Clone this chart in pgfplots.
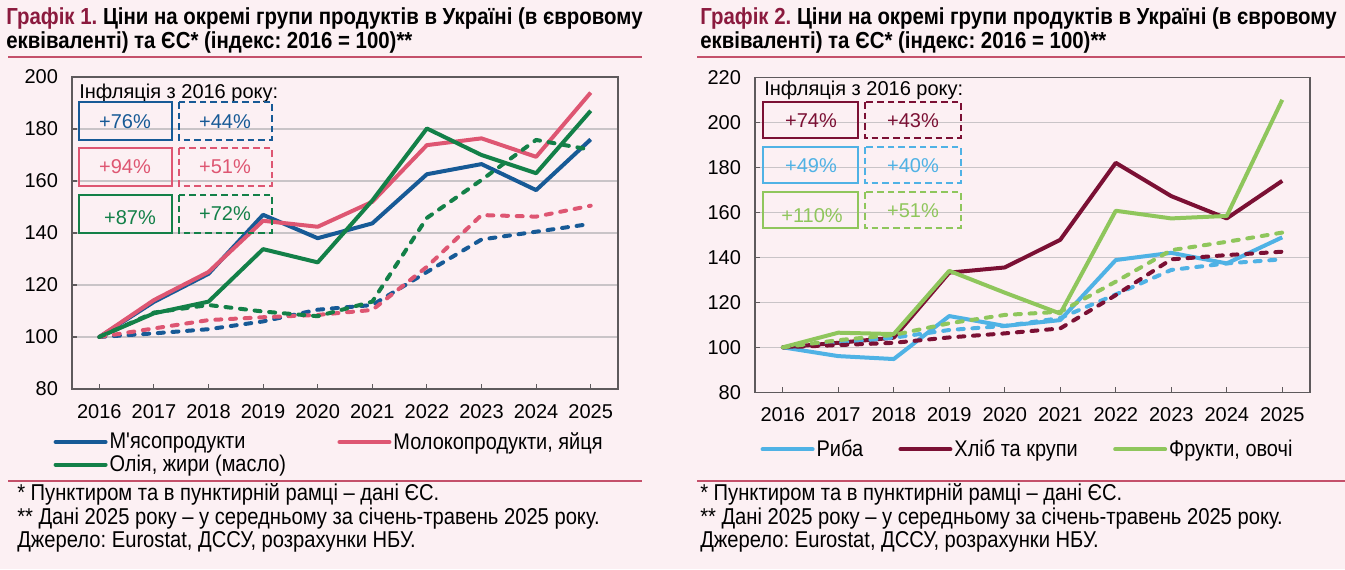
\documentclass[border=0pt]{standalone}
\usepackage{fontspec}
\setmainfont{Liberation Sans}
\newfontfamily\narrowfont[FakeStretch=0.88, Ligatures=TeXOff]{Liberation Sans}
\usepackage{pgfplots}
\usepackage{pgfplotstable}
\pgfplotsset{compat=1.18}
\frenchspacing

\definecolor{bgpink}{HTML}{FCF0F3}
\definecolor{meat}{HTML}{175A96}
\definecolor{dairy}{HTML}{DE5672}
\definecolor{oil}{HTML}{138048}
\definecolor{fish}{HTML}{4FB2E5}
\definecolor{bread}{HTML}{7B1034}
\definecolor{fruit}{HTML}{8FC65C}
\definecolor{titlered}{HTML}{8B1A3E}
\definecolor{rulered}{HTML}{C4506A}
\definecolor{gridgray}{HTML}{C9C4C7}
\definecolor{axisgray}{HTML}{5E5A5C}

% Chart 1: meat, dairy, oils -- Ukraine (UA) and EU, index 2016 = 100
\pgfplotstableread{
yr meatUA dairyUA oilUA meatEU dairyEU oilEU
0  100    100     100   100    100     100
1  113.5  114.2   109.1 101.4  103.3   109.4
2  124.3  125.0   113.6 103.0  106.5   112.3
3  147.0  144.7   133.8 106.0  107.6   109.8
4  138.0  142.4   128.7 110.5  108.5   108.0
5  143.7  152.0   152.5 112.3  110.4   113.6
6  162.6  173.8   180.2 125.0  127.0   145.8
7  166.5  176.4   170.0 137.5  146.9   160.4
8  156.5  169.3   163.0 140.5  146.3   175.8
9  176.0  194.0   187.0 143.5  150.5   172.0
}\tableA

% Chart 2: fish, bread and cereals, fruit and vegetables
\pgfplotstableread{
yr fishUA breadUA fruitUA fishEU breadEU fruitEU
0  100    100     100     100    100     100
1  96.1   102.0   106.5   102.0  101.0   103.2
2  94.8   104.3   105.9   104.3  102.0   105.5
3  113.9  133.2   134.0   107.7  104.4   110.7
4  109.5  135.5   124.3   109.5  106.2   114.4
5  112.1  147.8   115.0   113.0  108.4   115.8
6  138.8  182.0   160.7   123.5  123.2   129.2
7  142.0  167.2   157.3   134.4  139.1   143.2
8  137.3  157.3   158.4   137.3  141.0   146.9
9  148.9  174.0   210.0   139.1  142.5   151.0
}\tableB

\pgfplotsset{
  panel/.style={
    scale only axis,
    xmin=-0.5, xmax=9.5,
    xtick={0,...,9},
    xticklabels={2016,2017,2018,2019,2020,2021,2022,2023,2024,2025},
    xtick pos=left, ytick pos=left,
    tick align=inside,
    major tick length=4pt,
    ymajorgrids,
    grid style={gridgray, line width=0.8pt},
    axis line style={axisgray, line width=1.1pt},
    every tick/.style={axisgray, line width=0.8pt},
    /pgf/number format/assume math mode=true,
    tick label style={font=\fontsize{15}{17}\selectfont, text=black},
    xticklabel style={yshift=-8pt},
    yticklabel style={xshift=-7pt},
    legend style={draw=none, fill=none, inner sep=0pt,
      font=\narrowfont\fontsize{17}{18}\selectfont,
      nodes={inner sep=1.5pt}},
    legend cell align=left,
    legend image code/.code={\draw[#1, line width=3pt, line cap=round, solid] (1.5pt,0pt) -- (39pt,0pt);},
  },
  ua/.style={line width=3pt, line join=round},
  eu/.style={line width=3pt, line join=round, line cap=round, dash pattern=on 4.5pt off 6.5pt},
}

\begin{document}
\begin{tikzpicture}
\path[use as bounding box, fill=bgpink] (0,0) rectangle (1008.75pt,426.75pt);

% ---------- Chart 1 ----------
\begin{axis}[panel,
  at={(54pt,135pt)}, anchor=south west,
  width=409.5pt, height=234pt,
  ymin=80, ymax=200, ytick={80,100,...,200},
  legend columns=2,
  legend style={at={(0,0)}, anchor=north west, xshift=-14pt, yshift=-31pt,
    /tikz/every even column/.append style={column sep=37pt}},
]
\addplot[ua, meat]  table[x=yr, y=meatUA]  {\tableA};
\addlegendentry{М'ясопродукти}
\addplot[ua, dairy] table[x=yr, y=dairyUA] {\tableA};
\addlegendentry{Молокопродукти, яйця}
\addplot[ua, oil]   table[x=yr, y=oilUA]   {\tableA};
\addlegendentry{Олія, жири (масло)}
\addplot[eu, meat,  forget plot] table[x=yr, y=meatEU]  {\tableA};
\addplot[eu, dairy, forget plot] table[x=yr, y=dairyEU] {\tableA};
\addplot[eu, oil,   forget plot] table[x=yr, y=oilEU]   {\tableA};
\end{axis}

% ---------- Chart 2 ----------
\begin{axis}[panel,
  at={(566.25pt,132.5pt)}, anchor=south west,
  width=416.25pt, height=236.25pt,
  ymin=80, ymax=220, ytick={80,100,...,220},
  legend columns=3,
  legend style={at={(0,0)}, anchor=north west, xshift=4pt, yshift=-34pt,
    /tikz/every even column/.append style={column sep=25pt}},
]
\addplot[ua, fish]  table[x=yr, y=fishUA]  {\tableB};
\addlegendentry{Риба}
\addplot[ua, bread] table[x=yr, y=breadUA] {\tableB};
\addlegendentry{Хліб та крупи}
\addplot[ua, fruit] table[x=yr, y=fruitUA] {\tableB};
\addlegendentry{Фрукти, овочі}
\addplot[eu, fish,  forget plot] table[x=yr, y=fishEU]  {\tableB};
\addplot[eu, bread, forget plot] table[x=yr, y=breadEU] {\tableB};
\addplot[eu, fruit, forget plot] table[x=yr, y=fruitEU] {\tableB};
\end{axis}

% ---------- Titles, boxes and notes (pixel grid, y downwards) ----------
\begin{scope}[x=0.75pt, y=-0.75pt, shift={(0pt,426.75pt)}]
  \tikzset{
    ttl/.style={anchor=base west, inner sep=0pt, font=\narrowfont\bfseries\fontsize{17.4}{18}\selectfont},
    note/.style={anchor=base west, inner sep=0pt, font=\narrowfont\fontsize{17.2}{18}\selectfont},
    pct/.style={inner sep=0pt, font=\fontsize{15}{17}\selectfont},
    sbox/.style={line width=1.3pt},
    dbox/.style={line width=1.3pt, dash pattern=on 5pt off 3pt},
  }
  % titles
  \node[ttl] at (6,25) {\textcolor{titlered}{Графік 1.} Ціни на окремі групи продуктів в Україні (в євровому};
  \node[ttl] at (6,49) {еквіваленті) та ЄС* (індекс: 2016 = 100)**};
  \node[ttl] at (700,25) {\textcolor{titlered}{Графік 2.} Ціни на окремі групи продуктів в Україні (в євровому};
  \node[ttl] at (700,49) {еквіваленті) та ЄС* (індекс: 2016 = 100)**};
  \draw[rulered, line width=1.6pt] (8,57) -- (642,57);
  \draw[rulered, line width=1.6pt] (697,57) -- (1345,57);

  % inflation boxes, chart 1
  \node[pct, anchor=west] at (79,93) {Інфляція з 2016 року:};
  \draw[sbox, meat]  (79,102) rectangle (172,140);
  \draw[dbox, meat]  (179,102) rectangle (272,140);
  \draw[sbox, dairy] (79,148) rectangle (172,186);
  \draw[dbox, dairy] (179,148) rectangle (272,186);
  \draw[sbox, oil]   (79,195) rectangle (172,233);
  \draw[dbox, oil]   (179,195) rectangle (272,233);
  \node[pct, text=meat]  at (125,122) {+76\%};
  \node[pct, text=meat]  at (225,122) {+44\%};
  \node[pct, text=dairy] at (125,167) {+94\%};
  \node[pct, text=dairy] at (225,167) {+51\%};
  \node[pct, text=oil]   at (130,218) {+87\%};
  \node[pct, text=oil]   at (225,214) {+72\%};

  % inflation boxes, chart 2
  \node[pct, anchor=west] at (764,90) {Інфляція з 2016 року:};
  \draw[sbox, bread] (763,102) rectangle (858,138);
  \draw[dbox, bread] (865,102) rectangle (961,138);
  \draw[sbox, fish]  (763,147) rectangle (858,183);
  \draw[dbox, fish]  (865,147) rectangle (961,183);
  \draw[sbox, fruit] (763,192) rectangle (858,228);
  \draw[dbox, fruit] (865,192) rectangle (961,228);
  \node[pct, text=bread] at (811,121) {+74\%};
  \node[pct, text=bread] at (913,121) {+43\%};
  \node[pct, text=fish]  at (811,166) {+49\%};
  \node[pct, text=fish]  at (913,166) {+40\%};
  \node[pct, text=fruit] at (812,216) {+110\%};
  \node[pct, text=fruit] at (913,211) {+51\%};

  % notes
  \draw[rulered, line width=1.6pt] (8,481) -- (642,481);
  \draw[rulered, line width=1.6pt] (697,481) -- (1345,481);
  \node[note] at (17,500) {* Пунктиром та в пунктирній рамці – дані ЄС.};
  \node[note] at (17,524) {** Дані 2025 року – у середньому за січень-травень 2025 року.};
  \node[note] at (17,547) {Джерело: Eurostat, ДССУ, розрахунки НБУ.};
  \node[note] at (700,500) {* Пунктиром та в пунктирній рамці – дані ЄС.};
  \node[note] at (700,524) {** Дані 2025 року – у середньому за січень-травень 2025 року.};
  \node[note] at (700,547) {Джерело: Eurostat, ДССУ, розрахунки НБУ.};
\end{scope}
\end{tikzpicture}
\end{document}
